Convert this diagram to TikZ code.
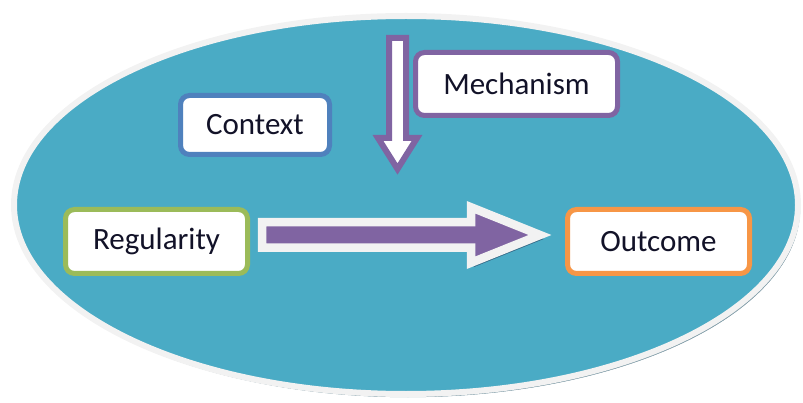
\documentclass[tikz,border=0pt]{standalone}
\usepackage{fontspec}
\setmainfont{Carlito}
\usetikzlibrary{positioning, calc}
\definecolor{cmoteal}{RGB}{74,171,197}
\definecolor{cmorim}{RGB}{242,242,242}
\definecolor{cmoshade}{RGB}{120,150,162}
\definecolor{cmodeep}{RGB}{52,100,130}
\definecolor{cmopurple}{RGB}{128,100,162}
\definecolor{cmoblue}{RGB}{79,129,189}
\definecolor{cmogreen}{RGB}{155,187,89}
\definecolor{cmoorange}{RGB}{247,150,70}
\definecolor{cmotext}{RGB}{18,18,40}
\tikzset{
  cmobox/.style={rectangle, fill=white, rounded corners=9pt, line width=5pt,
    font=\fontsize{31}{36}\selectfont, text=cmotext, inner sep=0pt},
  ctxbox/.style={cmobox, draw=cmoblue, minimum width=149pt, minimum height=59pt},
  mechbox/.style={cmobox, draw=cmopurple, minimum width=202pt, minimum height=63pt},
  regbox/.style={cmobox, draw=cmogreen, minimum width=182pt, minimum height=64pt},
  outbox/.style={cmobox, draw=cmoorange, minimum width=182pt, minimum height=64pt},
  flowarrow/.style={draw=cmorim, fill=cmopurple, line width=8.5pt, miter limit=20,
    preaction={draw=cmodeep, fill=cmodeep, opacity=0.9,
      transform canvas={shift={(3,4)}}}},
  pusharrow/.style={draw=cmopurple, fill=white, line width=6pt, miter limit=20}
}

\begin{document}
\begin{tikzpicture}[x=1pt, y=-1pt]
  \useasboundingbox (0,0) rectangle (803,403);
  % the surrounding oval with its rim and shadow
  \draw[cmorim, line width=6pt, fill=cmoteal,
    preaction={draw=cmoshade, fill=cmoshade, transform canvas={shift={(2,3)}}}]
    (406,205) ellipse [x radius=392, y radius=189];

  \node[regbox] (reg) at (156.5,241.5) {Regularity};
  \node[outbox, right=315pt of reg] (out) {Outcome};
  \node[ctxbox] (ctx) at (255,125) {Context};
  \node[mechbox] (mech) at (516.5,84) {Mechanism};

  % regularity -> outcome
  \coordinate (flowtail) at ($(reg.east)+(12,-6.5)$);
  \coordinate (flowtip) at ($(out.west)+(-25,-6.5)$);
  \draw[flowarrow] ($(flowtail)+(0,-12.75)$) -- ($(flowtip)+(-69,-12.75)$)
    -- ($(flowtip)+(-69,-27.75)$) -- (flowtip) -- ($(flowtip)+(-69,27.75)$)
    -- ($(flowtip)+(-69,12.75)$) -- ($(flowtail)+(0,12.75)$) -- cycle;

  % mechanism pushing down
  \coordinate (push) at ($(mech.north west)+(-15.5,-12)$);
  \draw[pusharrow] ($(push)+(-8.5,0)$) -- ($(push)+(-8.5,100)$)
    -- ($(push)+(-19.5,100)$) -- ($(push)+(0,131)$) -- ($(push)+(19.5,100)$)
    -- ($(push)+(8.5,100)$) -- ($(push)+(8.5,0)$) -- cycle;
\end{tikzpicture}
\end{document}
